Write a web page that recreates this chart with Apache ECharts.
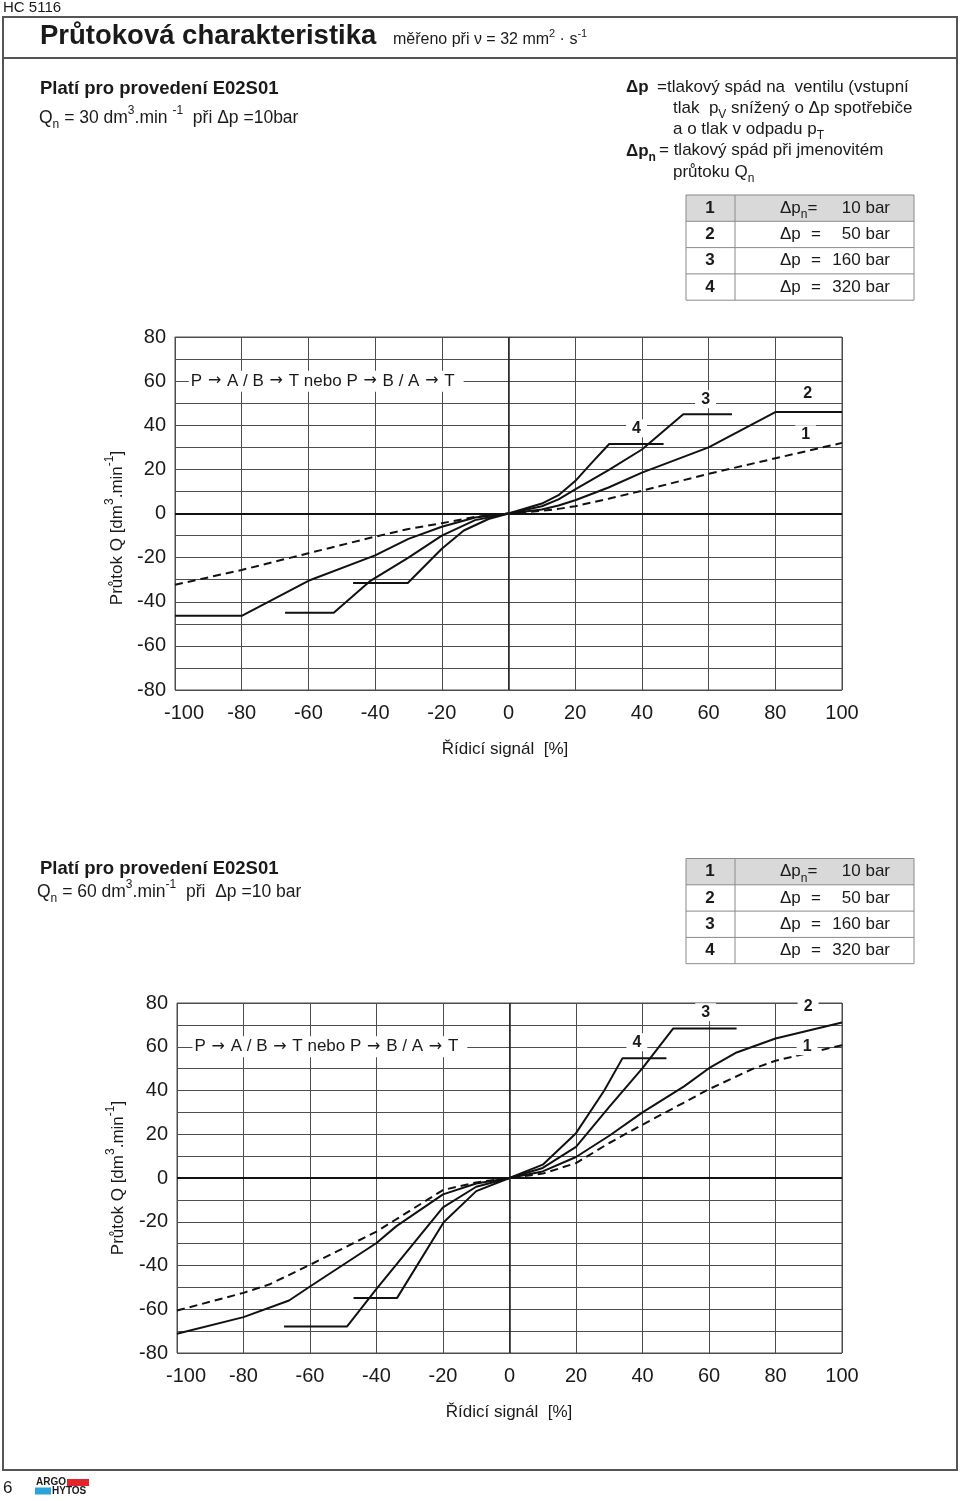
<!DOCTYPE html>
<html lang="cs">
<head>
<meta charset="UTF-8">
<title>Průtoková charakteristika HC 5116</title>
<script src="https://cdn.jsdelivr.net/npm/echarts@6/dist/echarts.min.js"></script>
<style>
    html, body { margin: 0; padding: 0; background: #fff; }
    #main { width: 960px; height: 1501px; }
</style>
</head>
<body>
<div id="main"></div>
<script>
    // osy: řídicí signál [%] a průtok Q [dm3/min]
    const xTicks = [-100, -80, -60, -40, -20, 0, 20, 40, 60, 80, 100];
    const yTicks = [-80, -60, -40, -20, 0, 20, 40, 60, 80];

    // graf 1: Qn = 30 dm3/min, křivky 1..4
    const curve1A = [[-100,-32.3],[-80,-25.6],[-60,-18],[-40,-10.5],[-30,-7],[-20,-4.4],[-10,-1.5],[0,0],[10,1.2],[15,2.1],[20,3.3],[30,6.7],[40,10.3],[60,18],[80,25],[100,32]];
    const curve2A = [[-100,-46.4],[-80,-46.4],[-60,-30.5],[-40,-19],[-30,-11.5],[-20,-6],[-10,-1.8],[0,0],[10,1.8],[15,3.6],[20,6],[30,11.8],[40,18.5],[60,30],[80,46],[100,46]];
    const curve3A = [[-67,-45],[-52.4,-45],[-41.4,-30.5],[-30,-20],[-20,-10],[-10,-3],[0,0],[10,3.3],[15,6.4],[20,10.9],[30,19.7],[40,29],[52.4,45],[67,45]];
    const curve4A = [[-46.6,-31.5],[-30.2,-31.5],[-20,-16],[-13.4,-7.7],[-6,-2.5],[0,0],[10,4.5],[15,8.3],[20,14.7],[24.8,22.7],[30.2,31.5],[46.5,31.5]];

    // graf 2: Qn = 60 dm3/min
    const curve1B = [[-100,-60.6],[-80,-52.5],[-72.3,-48.7],[-60,-39.7],[-40,-24.5],[-30,-15],[-20,-5.5],[-10,-2],[0,0],[10,2],[20,6.8],[30,16],[40,24.4],[52.5,34.5],[60,40.6],[73,49.8],[80,53.6],[100,60.7]];
    const curve2B = [[-100,-71.2],[-80,-63.6],[-66.3,-56],[-60,-49.6],[-40,-29.7],[-34,-22],[-20,-7.5],[-10,-2.5],[0,0],[10,3],[20,9.6],[30,19.3],[40,30],[52.5,41.9],[60,50.2],[68.3,57.4],[80,63.8],[100,71.1]];
    const curve3B = [[-67.8,-67.9],[-48.9,-67.9],[-40,-50.7],[-20,-13.4],[-10,-4],[0,0],[10,4.6],[20,14.2],[30,32.5],[40,50.2],[49.2,68.3],[68.3,68.3]];
    const curve4B = [[-46.9,-54.8],[-33.8,-54.8],[-19.8,-20.2],[-10,-6],[0,0],[10,6.1],[20,20.5],[28.5,40],[34,54.8],[47.2,54.8]];

    // kde stojí čísla křivek 1..4 (v jednotkách os)
    const labelAtA = [[89.1,35.9],[89.7,54.5],[59.1,51.8],[38.4,38.6]];
    const labelAtB = [[89.5,60.3],[89.8,78.5],[59,75.8],[38.3,62.1]];
    const flowText = 'P {ar|→} A / B {ar|→} T nebo P {ar|→} B / A {ar|→} T';
    const flowAtA = [-96, 60];
    const flowAtB = [-95.5, 60];

    // tabulka tlakových spádů
    const curveNo = ['1', '2', '3', '4'];
    const dpBar = [10, 50, 160, 320];

    const FONT = 'Liberation Sans, Arial, Helvetica, sans-serif';
    const INK = '#1a1a1a';
    const GRID = '#4d4d4d';

    function rich(size, bold) {
        const w = bold ? 'bold' : 'normal';
        const s = Math.round(size * 0.68);
        return {
            sub: { fontSize: s, lineHeight: s, verticalAlign: 'bottom', fontFamily: FONT, fontWeight: w, fill: INK },
            sup: { fontSize: s, lineHeight: s, verticalAlign: 'top', fontFamily: FONT, fontWeight: w, fill: INK },
            b: { fontSize: size, fontFamily: FONT, fontWeight: 'bold', fill: INK },
            bsub: { fontSize: s, lineHeight: s, verticalAlign: 'bottom', fontFamily: FONT, fontWeight: 'bold', fill: INK }
        };
    }

    function txt(x, y, text, size, opt) {
        opt = opt || {};
        return {
            type: 'text', x: x, y: y, silent: true, rotation: opt.rotation || 0, z: 10,
            style: {
                text: text, fill: INK, fontFamily: FONT, fontSize: size,
                fontWeight: opt.bold ? 'bold' : 'normal',
                align: opt.align || 'left', verticalAlign: 'middle',
                lineHeight: Math.round(size * 1.5), rich: rich(size, opt.bold)
            }
        };
    }

    function line(x1, y1, x2, y2, color, w) {
        return { type: 'line', silent: true, z: 9, shape: { x1: x1, y1: y1, x2: x2, y2: y2 }, style: { stroke: color, lineWidth: w } };
    }

    function table(x, y, w, h) {
        const out = [];
        out.push({ type: 'rect', silent: true, z: 8, shape: { x: x, y: y, width: w, height: h }, style: { fill: '#d9d9d9' } });
        for (let i = 0; i < curveNo.length; i++) {
            const cy = y + h * i + h / 2;
            out.push(txt(x + 24, cy, curveNo[i], 17, { align: 'center', bold: true }));
            if (i === 0) {
                out.push(txt(x + 94, cy, 'Δp{sub|n}=', 17));
            } else {
                out.push(txt(x + 94, cy, 'Δp', 17));
                out.push(txt(x + 130, cy, '=', 17, { align: 'center' }));
            }
            out.push(txt(x + 204, cy, dpBar[i] + ' bar', 17, { align: 'right' }));
            if (i > 0) out.push(line(x, y + h * i, x + w, y + h * i, '#8a8a8a', 1));
        }
        out.push({ type: 'rect', silent: true, z: 9, shape: { x: x, y: y, width: w, height: h * 4 }, style: { fill: 'none', stroke: '#8a8a8a', lineWidth: 1 } });
        out.push(line(x + 49, y, x + 49, y + h * 4, '#8a8a8a', 1));
        return out;
    }

    function axisPair(i) {
        const x = {
            type: 'value', gridIndex: i, min: xTicks[0], max: xTicks[xTicks.length - 1], interval: 20,
            axisLine: { show: false }, axisTick: { show: false },
            axisLabel: {
                fontSize: 20, color: INK, fontFamily: FONT, margin: 13,
                // krajní popisek -100 je v předloze posunutý doprava
                formatter: function (v) { return v === xTicks[0] ? '{f|' + v + '}' : String(v); },
                rich: { f: { fontSize: 20, color: INK, fontFamily: FONT, padding: [0, 0, 0, 18] } }
            },
            splitLine: { show: true, lineStyle: { color: GRID, width: 1 } }
        };
        const y = {
            type: 'value', gridIndex: i, min: yTicks[0], max: yTicks[yTicks.length - 1], interval: 10,
            axisLine: { show: false }, axisTick: { show: false },
            axisLabel: {
                fontSize: 20, color: INK, fontFamily: FONT, margin: 9,
                formatter: function (v) { return yTicks.indexOf(v) >= 0 ? String(v) : ''; }
            },
            splitLine: { show: true, lineStyle: { color: GRID, width: 1 } }
        };
        return [x, y];
    }

    function curve(data, i, dashed) {
        return {
            type: 'line', xAxisIndex: i, yAxisIndex: i, data: data, symbol: 'none', z: 4,
            lineStyle: { color: '#111', width: 2, type: dashed ? [8, 5] : 'solid' }
        };
    }

    function notes(labelAt, flowAt) {
        const data = labelAt.map(function (c, k) {
            return { name: curveNo[k], coord: c };
        });
        data.push({
            name: flowText, coord: flowAt,
            label: {
                position: 'right', distance: 0, fontWeight: 'normal', fontSize: 17, padding: [2, 9, 2, 2],
                rich: { ar: { fontFamily: 'DejaVu Sans', fontSize: 16, color: INK, padding: [0, 1] } }
            }
        });
        return {
            symbol: 'rect', symbolSize: 1, silent: true, z: 6,
            itemStyle: { color: 'rgba(0,0,0,0)' },
            label: {
                show: true, position: 'inside', formatter: '{b}', color: INK, fontFamily: FONT,
                fontSize: 16, fontWeight: 'bold', backgroundColor: '#fff', padding: [1, 6]
            },
            data: data
        };
    }

    function zeroLines() {
        return {
            symbol: ['none', 'none'], silent: true, label: { show: false },
            lineStyle: { color: '#111', width: 2, type: 'solid' },
            data: [{ yAxis: 0 }, { xAxis: 0, lineStyle: { color: '#222', width: 1.5, type: 'solid' } }]
        };
    }

    const axA = axisPair(0), axB = axisPair(1);

    const seriesA = [curve(curve1A, 0, true), curve(curve2A, 0), curve(curve3A, 0), curve(curve4A, 0)];
    seriesA[0].markLine = zeroLines();
    seriesA[1].markPoint = notes(labelAtA, flowAtA);
    const seriesB = [curve(curve1B, 1, true), curve(curve2B, 1), curve(curve3B, 1), curve(curve4B, 1)];
    seriesB[0].markLine = zeroLines();
    seriesB[1].markPoint = notes(labelAtB, flowAtB);

    let graphic = [
        txt(3, 8, 'HC 5116', 15),
        { type: 'rect', silent: true, z: 9, shape: { x: 3, y: 17, width: 954, height: 1453 }, style: { fill: 'none', stroke: '#555', lineWidth: 2 } },
        line(3, 58, 957, 58, '#555', 2),
        txt(40, 36, 'Průtoková charakteristika', 27.5, { bold: true }),
        txt(393, 40, 'měřeno při ν = 32 mm{sup|2} · s{sup|-1}', 16),

        txt(40, 89, 'Platí pro provedení E02S01', 18.5, { bold: true }),
        txt(39, 118, 'Q{sub|n} = 30 dm{sup|3}.min {sup|-1}  při Δp =10bar', 17.5),

        txt(626, 87, 'Δp', 17, { bold: true }),
        txt(657, 87, '=tlakový spád na  ventilu (vstupní', 17),
        txt(673, 108, 'tlak  p{sub|V} snížený o Δp spotřebiče', 17),
        txt(673, 129, 'a o tlak v odpadu p{sub|T}', 17),
        txt(626, 151, 'Δp{bsub|n}', 17, { bold: true }),
        txt(659, 150, '= tlakový spád při jmenovitém', 17),
        txt(673, 172, 'průtoku Q{sub|n}', 17),

        txt(505, 749, 'Řídicí signál  [%]', 17, { align: 'center' }),
        txt(117, 528, 'Průtok Q [dm{sup|3}.min{sup|-1}]', 17, { align: 'center', rotation: Math.PI / 2 }),

        txt(40, 869, 'Platí pro provedení E02S01', 18.5, { bold: true }),
        txt(37, 892, 'Q{sub|n} = 60 dm{sup|3}.min{sup|-1}  při  Δp =10 bar', 17.5),

        txt(509, 1412, 'Řídicí signál  [%]', 17, { align: 'center' }),
        txt(118, 1178, 'Průtok Q [dm{sup|3}.min{sup|-1}]', 17, { align: 'center', rotation: Math.PI / 2 }),

        txt(3, 1488, '6', 17),
        txt(36, 1482.5, 'ARGO', 10, { bold: true }),
        { type: 'rect', silent: true, z: 9, shape: { x: 67, y: 1479, width: 22, height: 7 }, style: { fill: '#e4262c' } },
        { type: 'rect', silent: true, z: 9, shape: { x: 35, y: 1487.5, width: 16, height: 7 }, style: { fill: '#29a3dc' } },
        txt(52, 1491.5, 'HYTOS', 10, { bold: true })
    ];
    graphic = graphic.concat(table(686, 195, 228, 26.3), table(686, 858.5, 228, 26.3));

    const myChart = echarts.init(document.getElementById('main'), null, { renderer: 'canvas' });
    myChart.setOption({
        animation: false,
        backgroundColor: '#fff',
        textStyle: { fontFamily: FONT },
        grid: [
            { left: 175, top: 337, width: 667, height: 353, show: true, borderColor: GRID, borderWidth: 1, backgroundColor: 'transparent' },
            { left: 177, top: 1003, width: 665, height: 350, show: true, borderColor: GRID, borderWidth: 1, backgroundColor: 'transparent' }
        ],
        xAxis: [axA[0], axB[0]],
        yAxis: [axA[1], axB[1]],
        series: seriesA.concat(seriesB),
        graphic: graphic
    });
</script>
</body>
</html>
